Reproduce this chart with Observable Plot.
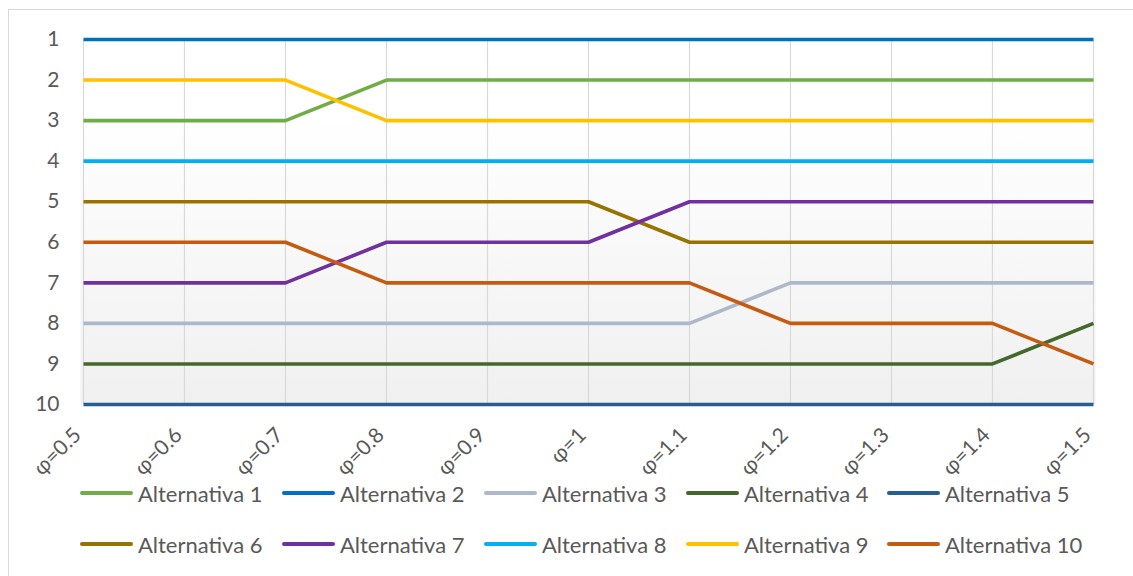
<!DOCTYPE html>
<html>
<head>
<meta charset="utf-8">
<script src="https://cdn.jsdelivr.net/npm/d3@7"></script>
<script src="https://cdn.jsdelivr.net/npm/@observablehq/plot@0.6"></script>
<style>
  html, body { margin: 0; padding: 0; background: #fff; overflow: hidden; }
  body { width: 1133px; height: 576px; position: relative; font-family: Lato, "Open Sans", sans-serif; }
  #frame { position: absolute; left: 8px; top: 9px; width: 1140px; height: 590px; border: 1px solid #d9d9d9; box-sizing: border-box; }
  #chart { position: absolute; left: 0; top: 0; }
  .leg { position: absolute; display: flex; align-items: center; font-size: 22px; color: #595959; white-space: nowrap; }
  .sw { width: 53px; height: 4px; border-radius: 2px; margin-right: 5px; }
</style>
</head>
<body>
<div id="frame"><div id="chart"></div><div id="legend"></div></div>
<script>
const categories = ["φ=0.5","φ=0.6","φ=0.7","φ=0.8","φ=0.9","φ=1","φ=1.1","φ=1.2","φ=1.3","φ=1.4","φ=1.5"];
const seriesNames = ["Alternativa 1","Alternativa 2","Alternativa 3","Alternativa 4","Alternativa 5","Alternativa 6","Alternativa 7","Alternativa 8","Alternativa 9","Alternativa 10"];
const alt1  = [3,3,3,2,2,2,2,2,2,2,2];
const alt2  = [1,1,1,1,1,1,1,1,1,1,1];
const alt3  = [8,8,8,8,8,8,8,7,7,7,7];
const alt4  = [9,9,9,9,9,9,9,9,9,9,8];
const alt5  = [10,10,10,10,10,10,10,10,10,10,10];
const alt6  = [5,5,5,5,5,5,6,6,6,6,6];
const alt7  = [7,7,7,6,6,6,5,5,5,5,5];
const alt8  = [4,4,4,4,4,4,4,4,4,4,4];
const alt9  = [2,2,2,3,3,3,3,3,3,3,3];
const alt10 = [6,6,6,7,7,7,7,8,8,8,9];
const yTicks = [1,2,3,4,5,6,7,8,9,10];
const colors = ["#70AD47","#0070C0","#ADB9CA","#43682B","#255E91","#997300","#7030A0","#00B0F0","#FFC000","#C55A11"];

const allSeries = [alt1,alt2,alt3,alt4,alt5,alt6,alt7,alt8,alt9,alt10];
const data = [];
allSeries.forEach((vals, si) => vals.forEach((v, i) => data.push({series: seriesNames[si], cat: categories[i], rank: v})));

const plot = Plot.plot({
  width: 1124,
  height: 470,
  marginLeft: 71,
  marginRight: 38,
  marginTop: 29,
  marginBottom: 76,
  style: {fontFamily: "Lato, 'Open Sans', sans-serif", fontSize: "20px", background: "transparent", overflow: "visible"},
  x: {type: "point", domain: categories, padding: 0},
  y: {domain: [10, 1], range: [394, 29]},
  color: {domain: seriesNames, range: colors},
  marks: [
    Plot.frame({fill: "url(#bgGrad)", stroke: null}),
    Plot.gridX(categories, {stroke: "#d9d9d9", strokeOpacity: 1, strokeWidth: 1.2}),
    Plot.axisY(yTicks, {tickSize: 0, tickPadding: 21, fontSize: 21, fill: "#595959", label: null}),
    Plot.axisX(categories, {tickSize: 0, tickPadding: 27, tickRotate: -45, dx: -6, fontSize: 21, fill: "#595959", label: null}),
    Plot.line(data, {x: "cat", y: "rank", z: "series", stroke: "series", strokeWidth: 3.6, strokeLinejoin: "round", strokeLinecap: "butt"})
  ]
});

const svg = d3.select(plot);
const defs = svg.insert("defs", ":first-child");
const g = defs.append("linearGradient").attr("id", "bgGrad").attr("x1", 0).attr("y1", 0).attr("x2", 0).attr("y2", 1);
g.append("stop").attr("offset", "0%").attr("stop-color", "#ffffff");
g.append("stop").attr("offset", "20%").attr("stop-color", "#ffffff");
g.append("stop").attr("offset", "100%").attr("stop-color", "#f0f0f0");
document.getElementById("chart").appendChild(plot);

// Legend
const legend = document.getElementById("legend");
const colX = [71, 273, 475, 677, 878];
const rowY = [483, 534];
seriesNames.forEach((name, i) => {
  const row = Math.floor(i / 5), col = i % 5;
  const d = document.createElement("div");
  d.className = "leg";
  d.style.left = colX[col] + "px";
  d.style.top = (rowY[row] - 14) + "px";
  d.style.height = "28px";
  const sw = document.createElement("div");
  sw.className = "sw";
  sw.style.background = colors[i];
  const t = document.createElement("span");
  t.textContent = name;
  d.appendChild(sw); d.appendChild(t);
  legend.appendChild(d);
});
</script>
</body>
</html>
